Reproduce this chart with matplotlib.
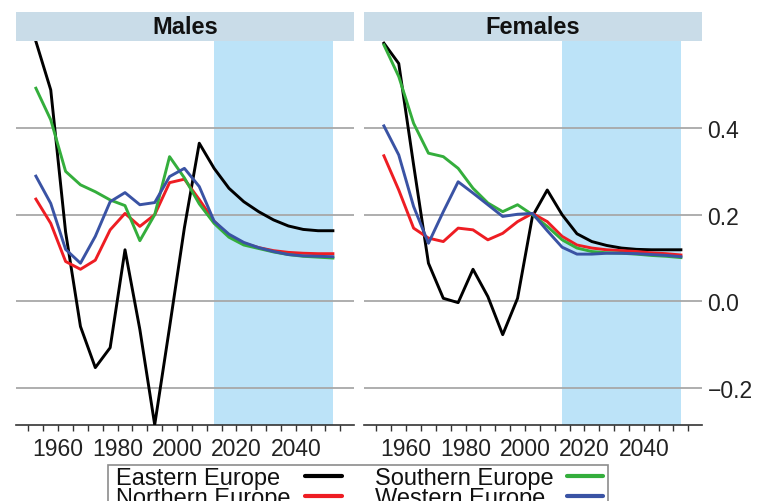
import matplotlib
matplotlib.use("Agg")
import matplotlib.pyplot as plt
from matplotlib.patches import Rectangle
from matplotlib.lines import Line2D

plt.rcParams['font.family'] = ['Liberation Sans', 'DejaVu Sans']

# Period midpoints (five-year periods 1950-55 ... 2050-55)
years = [1952.5, 1957.5, 1962.5, 1967.5, 1972.5, 1977.5, 1982.5, 1987.5,
         1992.5, 1997.5, 2002.5, 2007.5, 2012.5, 2017.5, 2022.5, 2027.5,
         2032.5, 2037.5, 2042.5, 2047.5, 2052.5]
projection_start = 2012.5

regions = ["Eastern Europe", "Northern Europe", "Southern Europe", "Western Europe"]
region_colors = ["#000000", "#EE1D23", "#34AE3C", "#3A53A4"]

males_eastern = [0.600, 0.488, 0.160, -0.058, -0.153, -0.107, 0.119, -0.065,
                 -0.285, -0.060, 0.170, 0.365, 0.307, 0.261, 0.230, 0.207,
                 0.188, 0.174, 0.166, 0.163, 0.163]
males_northern = [0.236, 0.180, 0.092, 0.074, 0.095, 0.165, 0.203, 0.173,
                  0.200, 0.274, 0.282, 0.235, 0.185, 0.152, 0.134, 0.124,
                  0.117, 0.113, 0.111, 0.110, 0.110]
males_southern = [0.492, 0.419, 0.300, 0.269, 0.253, 0.234, 0.221, 0.140,
                  0.200, 0.334, 0.285, 0.225, 0.180, 0.148, 0.130, 0.122,
                  0.114, 0.108, 0.104, 0.102, 0.100]
males_western = [0.289, 0.226, 0.120, 0.088, 0.150, 0.230, 0.251, 0.223,
                 0.228, 0.288, 0.307, 0.265, 0.185, 0.155, 0.136, 0.124,
                 0.115, 0.108, 0.105, 0.104, 0.103]

females_eastern = [0.596, 0.549, 0.315, 0.088, 0.007, -0.003, 0.074, 0.011,
                   -0.077, 0.007, 0.196, 0.257, 0.200, 0.156, 0.138, 0.129,
                   0.123, 0.120, 0.119, 0.119, 0.119]
females_northern = [0.336, 0.257, 0.169, 0.146, 0.138, 0.169, 0.165, 0.142,
                    0.157, 0.184, 0.203, 0.184, 0.150, 0.130, 0.123, 0.119,
                    0.117, 0.115, 0.112, 0.110, 0.107]
females_southern = [0.592, 0.519, 0.411, 0.342, 0.334, 0.307, 0.261, 0.227,
                    0.207, 0.223, 0.200, 0.173, 0.142, 0.123, 0.115, 0.112,
                    0.111, 0.109, 0.106, 0.104, 0.101]
females_western = [0.405, 0.338, 0.219, 0.134, 0.207, 0.276, 0.250, 0.223,
                   0.196, 0.201, 0.203, 0.163, 0.125, 0.109, 0.109, 0.111,
                   0.111, 0.110, 0.108, 0.106, 0.103]

panel_titles = ["Males", "Females"]
panel_series = [
    [males_eastern, males_northern, males_southern, males_western],
    [females_eastern, females_northern, females_southern, females_western],
]

y_ticks = [-0.2, 0.0, 0.2, 0.4]
x_label_ticks = [1960, 1980, 2000, 2020, 2040]
x_minor_ticks = list(range(1950, 2060, 5))

W, H = 757, 502
fig = plt.figure(figsize=(W / 100, H / 100), dpi=100)

panel_left = [16, 364]
panel_width = 338
panel_top, panel_bottom = 42, 426
strip_h = 29

strip_color = "#C9DCE8"
shade_color = "#BCE3F8"
grid_color = "#A8A8A8"
axis_color = "#333333"
tick_fs = 16.5


def fx(px):
    return px / W


def fy(py):
    return 1 - py / H


for i, (title, series) in enumerate(zip(panel_titles, panel_series)):
    ax = fig.add_axes([fx(panel_left[i]), fy(panel_bottom),
                       panel_width / W, (panel_bottom - panel_top) / H])
    ax.set_xlim(1945.8, 2059.6)
    ax.set_ylim(-0.2855, 0.601)

    ax.axvspan(projection_start, years[-1], color=shade_color, lw=0, zorder=0)
    for v in y_ticks:
        ax.axhline(v, color=grid_color, lw=1.3, zorder=1)

    for name, vals, col in zip(regions, series, region_colors):
        ax.plot(years, vals, color=col, lw=2.1, label=name, zorder=3)

    for side in ("top", "left", "right"):
        ax.spines[side].set_visible(False)
    ax.spines["bottom"].set_color(axis_color)
    ax.spines["bottom"].set_linewidth(1.2)

    ax.set_xticks(x_label_ticks)
    ax.set_xticks(x_minor_ticks, minor=True)
    ax.tick_params(axis="x", which="both", length=4.5, width=1.0,
                   color=axis_color, pad=4.5, labelsize=tick_fs,
                   labelcolor="#222222")

    ax.set_yticks(y_ticks)
    if i == 1:
        ax.yaxis.tick_right()
        ax.set_yticklabels([f"{v:.1f}".replace("-", "\u2212") for v in y_ticks])
        ax.tick_params(axis="y", length=0, pad=4, labelsize=tick_fs,
                       labelcolor="#222222")
    else:
        ax.tick_params(axis="y", left=False, labelleft=False)

    # facet strip
    rel = strip_h / (panel_bottom - panel_top)
    ax.add_patch(Rectangle((0, 1), 1, rel, transform=ax.transAxes,
                           facecolor=strip_color, edgecolor="none",
                           clip_on=False, zorder=5))
    ax.text(0.5, 1 + rel / 2, title, transform=ax.transAxes, ha="center",
            va="center", fontsize=17, fontweight="bold", color="#111111",
            zorder=6)

# Legend: two columns, label followed by its line key
fig.patches.append(Rectangle((fx(108), fy(530)), fx(608) - fx(108),
                             fy(466) - fy(530), transform=fig.transFigure,
                             facecolor="white", edgecolor="#8C8C8C", lw=1.2))
col_text_x = [116, 375]
col_line_x = [(305, 342), (567, 603)]
row_baseline = [485, 505.5]
row_line_y = [476.7, 497.2]
for k, (name, col) in enumerate(zip(regions, region_colors)):
    c, r = divmod(k, 2)
    fig.text(fx(col_text_x[c]), fy(row_baseline[r]), name, ha="left",
             va="baseline", fontsize=17, color="#111111")
    x0, x1 = col_line_x[c]
    fig.add_artist(Line2D([fx(x0), fx(x1)], [fy(row_line_y[r])] * 2,
                          transform=fig.transFigure, color=col, lw=3.0,
                          solid_capstyle="round"))

fig.savefig("out.png", dpi=100)
